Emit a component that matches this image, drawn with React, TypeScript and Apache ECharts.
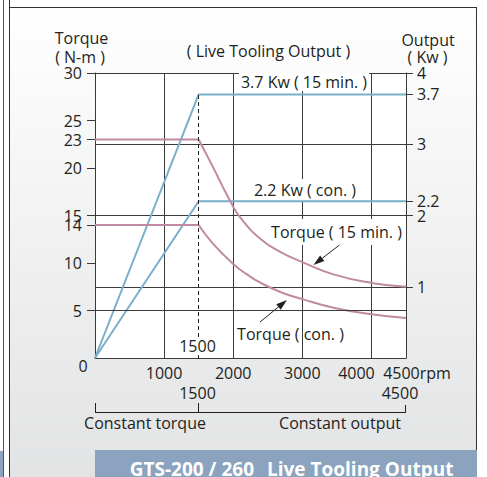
import React, { useEffect, useRef } from 'react';
import * as echarts from 'echarts';

// ---- data ----
const rpmMin = 0;
const rpmMax = 4500;
const rpmInterval = 1000;
const baseSpeed = 1500;
const torqueTicks = [5, 10, 14, 15, 20, 23, 25, 30];
const outputTicks = [1, 2, 2.2, 3, 3.7, 4];
const output15 = [[0, 0], [1500, 3.7], [4500, 3.7]];
const outputCon = [[0, 0], [1500, 2.2], [4500, 2.2]];
const torque15Flat = [[0, 23], [1500, 23]];
const torque15Curve = [[1500, 23], [1700, 20.2], [1950, 16.6], [2100, 14.8], [2400, 12.5], [2700, 11.1], [3000, 10.1], [3450, 8.8], [4000, 7.9], [4500, 7.5]];
const torqueConFlat = [[0, 14], [1500, 14]];
const torqueConCurve = [[1500, 14], [1700, 12.1], [2000, 9.9], [2200, 8.8], [2400, 7.9], [2700, 6.9], [3000, 6.2], [3450, 5.3], [4000, 4.6], [4500, 4.2]];
const gridLineTorque = 5;

const FONT = '"Open Sans", "Noto Sans", sans-serif';
const INK = '#231f20';
const BLUE = '#7aafc9';
const PINK = '#c08aa2';
const GRID = '#3a3a3a';

function txt(text: string, x: number, y: number, extra: any = {}, z = 1) {
  return {
    type: 'text', x, y, z,
    style: {
      text, fontSize: 16, fontFamily: FONT, fill: INK,
      align: 'center', verticalAlign: 'middle',
      ...extra,
    },
  };
}

function arrow(x1: number, y1: number, x2: number, y2: number) {
  const dx = x2 - x1, dy = y2 - y1, L = Math.hypot(dx, dy);
  const ux = dx / L, uy = dy / L, len = 11, hw = 3.5;
  const bx = x2 - ux * len, by = y2 - uy * len;
  return [
    { type: 'line', z: 4, shape: { x1, y1, x2: bx, y2: by }, style: { stroke: INK, lineWidth: 1 } },
    { type: 'polygon', z: 4, shape: { points: [[x2, y2], [bx + uy * hw, by - ux * hw], [bx - uy * hw, by + ux * hw]] }, style: { fill: INK } },
  ];
}

export default function App() {
  const ref = useRef<HTMLDivElement>(null);
  useEffect(() => {
    const chart = echarts.init(ref.current!, null, { renderer: 'svg' });
    const lineBase = { type: 'line', symbol: 'none', z: 3, silent: true };
    chart.setOption({
      animation: false,
      textStyle: { fontFamily: FONT },
      grid: { left: 95, top: 73, right: 81, bottom: 119, show: true, backgroundColor: '#ffffff', borderWidth: 0, outerBoundsMode: 'none' },
      xAxis: {
        type: 'value', min: rpmMin, max: rpmMax, interval: rpmInterval,
        axisLine: { show: true, lineStyle: { color: GRID, width: 1 } },
        axisTick: { show: false },
        splitLine: { show: true, lineStyle: { color: GRID, width: 1 } },
        axisLabel: {
          showMinLabel: true, showMaxLabel: true, hideOverlap: false, margin: 7,
          fontSize: 16, color: INK, fontFamily: FONT,
          formatter: (v: number) => (v === rpmMin ? '' : v === rpmMax ? '{r|' + v + 'rpm}' : v === 4000 ? '{l|' + v + '}' : String(v)),
          rich: {
            r: { fontSize: 16, color: INK, fontFamily: FONT, padding: [0, 0, 0, 22] },
            l: { fontSize: 16, color: INK, fontFamily: FONT, padding: [0, 30, 0, 0] },
          },
        },
      },
      yAxis: [
        {
          type: 'value', min: 0, max: 30, position: 'left',
          axisLine: { show: true, lineStyle: { color: GRID, width: 1 } },
          axisTick: { show: true, customValues: torqueTicks, length: 8, lineStyle: { color: GRID } },
          axisLabel: { customValues: torqueTicks, margin: 13, fontSize: 16, color: INK, fontFamily: FONT, showMaxLabel: true, showMinLabel: true, hideOverlap: false },
          splitLine: { show: false },
        },
        {
          type: 'value', min: 0, max: 4, position: 'right',
          axisLine: { show: true, lineStyle: { color: GRID, width: 1 } },
          axisTick: { show: true, customValues: outputTicks, length: 7, lineStyle: { color: GRID } },
          axisLabel: { customValues: outputTicks, margin: 11, fontSize: 16, color: INK, fontFamily: FONT, showMaxLabel: true, showMinLabel: true, hideOverlap: false },
          splitLine: { show: false },
        },
        {
          type: 'value', min: 0, max: 30, interval: 7.5, position: 'right', offset: 0,
          axisLine: { show: false }, axisTick: { show: false }, axisLabel: { show: false },
          splitLine: { show: true, lineStyle: { color: GRID, width: 1 } },
        },
      ],
      series: [
        {
          ...lineBase, name: 'Output 15 min', yAxisIndex: 1, data: output15,
          lineStyle: { color: BLUE, width: 2 },
          markLine: {
            silent: true, symbol: ['none', 'none'], label: { show: false },
            lineStyle: { color: INK, width: 1, type: [4, 3] },
            data: [[{ coord: [baseSpeed, 0] }, { coord: [baseSpeed, output15[1][1]] }]],
          },
        },
        { ...lineBase, name: 'Output con', yAxisIndex: 1, data: outputCon, lineStyle: { color: BLUE, width: 2 } },
        {
          ...lineBase, name: 'Torque 15 min flat', yAxisIndex: 0, data: torque15Flat, lineStyle: { color: PINK, width: 2 },
          markLine: {
            silent: true, symbol: ['none', 'none'], label: { show: false },
            lineStyle: { color: GRID, width: 1, type: 'solid' },
            data: [{ yAxis: gridLineTorque }],
          },
        },
        { ...lineBase, name: 'Torque 15 min', yAxisIndex: 0, data: torque15Curve, smooth: 0.5, lineStyle: { color: PINK, width: 2 } },
        { ...lineBase, name: 'Torque con flat', yAxisIndex: 0, data: torqueConFlat, lineStyle: { color: PINK, width: 2 } },
        { ...lineBase, name: 'Torque con', yAxisIndex: 0, data: torqueConCurve, smooth: 0.5, lineStyle: { color: PINK, width: 2 } },
      ],
      graphic: [
        // background panel
        { type: 'rect', z: -10, shape: { x: 9, y: 7, width: 468, height: 470 },
          style: { fill: new echarts.graphic.LinearGradient(0, 0, 0, 1, [{ offset: 0, color: '#ffffff' }, { offset: 1, color: '#e2e3e4' }]) } },
        { type: 'line', z: 1, shape: { x1: 9.5, y1: 0, x2: 9.5, y2: 477 }, style: { stroke: '#333', lineWidth: 1 } },
        { type: 'line', z: 1, shape: { x1: 3.5, y1: 0, x2: 3.5, y2: 477 }, style: { stroke: '#555', lineWidth: 1 } },
        { type: 'line', z: 1, shape: { x1: 9, y1: 7.5, x2: 477, y2: 7.5 }, style: { stroke: '#333', lineWidth: 1 } },
        { type: 'line', z: 1, shape: { x1: 476.5, y1: 7, x2: 476.5, y2: 450 }, style: { stroke: '#333', lineWidth: 1 } },
        { type: 'rect', z: 1, shape: { x: 0, y: 451, width: 3, height: 26 }, style: { fill: '#8ba3be' } },
        { type: 'rect', z: 1, shape: { x: 95, y: 450, width: 382, height: 27 }, style: { fill: '#8ba3be' } },
        txt('GTS-200 / 260', 254, 469, { fill: '#ffffff', fontWeight: 'bold', fontSize: 19, align: 'right' }, 2),
        txt('Live Tooling Output', 267, 469, { fill: '#ffffff', fontWeight: 'bold', fontSize: 19, align: 'left' }, 2),
        // titles
        txt('Torque', 81.5, 38),
        txt('( N-m )', 80, 57),
        txt('( Live Tooling Output )', 268.5, 51),
        txt('Output', 428, 40),
        txt('( Kw )', 427.5, 57),
        txt('0', 83, 366),
        // annotations
        txt('3.7 Kw ( 15 min. )', 304, 82, { backgroundColor: '#ffffff', padding: [1, 2, 1, 2] }),
        txt('2.2 Kw ( con. )', 305, 190, { backgroundColor: '#ffffff', padding: [4, 2, 2, 2] }),
        txt('Torque ( 15 min. )', 336.5, 232, { backgroundColor: '#ffffff', padding: [6, 2, 4, 2] }),
        txt('Torque ( con. )', 290.5, 334),
        txt('1500', 197.5, 346, { backgroundColor: '#ffffff', padding: [2, 1, 0, 1] }, 10),
        txt('1500', 197.5, 393),
        txt('4500', 400, 393),
        ...arrow(339.5, 245, 313.5, 265),
        ...arrow(260, 322, 287, 300),
        // bracket
        { type: 'line', z: 1, shape: { x1: 95, y1: 412.5, x2: 406, y2: 412.5 }, style: { stroke: INK, lineWidth: 1 } },
        { type: 'line', z: 1, shape: { x1: 95.5, y1: 403, x2: 95.5, y2: 413 }, style: { stroke: INK, lineWidth: 1 } },
        { type: 'line', z: 1, shape: { x1: 198.5, y1: 403, x2: 198.5, y2: 413 }, style: { stroke: INK, lineWidth: 1 } },
        { type: 'line', z: 1, shape: { x1: 405.5, y1: 405, x2: 405.5, y2: 413 }, style: { stroke: INK, lineWidth: 1 } },
        txt('Constant torque', 145, 423),
        txt('Constant output', 340, 423),
      ],
    });
    return () => chart.dispose();
  }, []);
  return <div ref={ref} style={{ position: 'absolute', left: 0, top: 0, width: 487, height: 477 }} />;
}
